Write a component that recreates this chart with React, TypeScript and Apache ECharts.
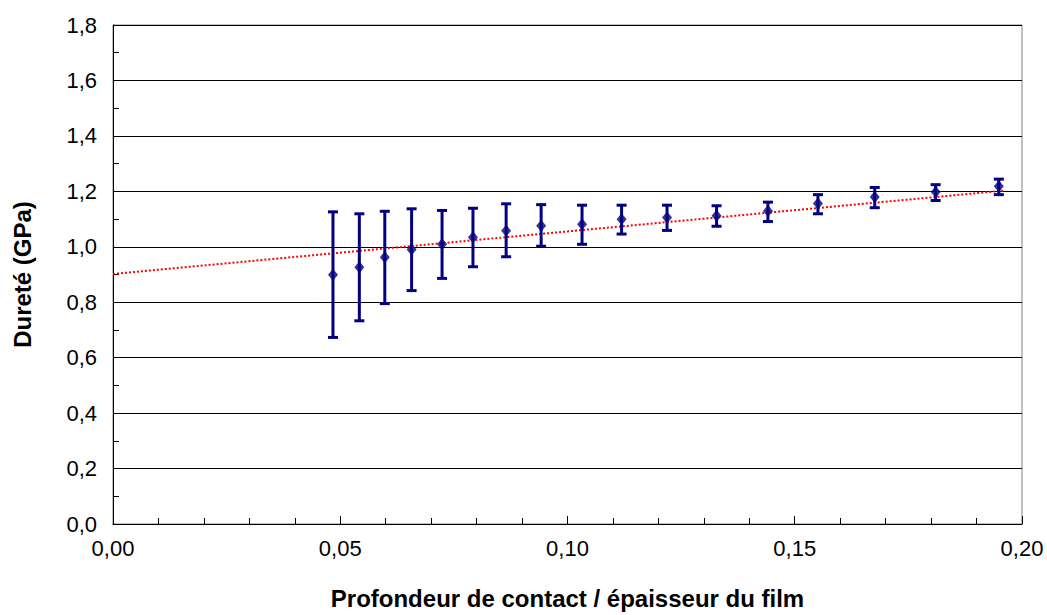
import React, { useEffect, useRef } from "react";
import * as echarts from "echarts";

const depthRatio = [0.0484, 0.0542, 0.0598, 0.0657, 0.0724, 0.0792, 0.0865, 0.0942, 0.1032, 0.1119, 0.1219, 0.1328, 0.1441, 0.1551, 0.1676, 0.181, 0.1949];
const hardness = [0.899, 0.926, 0.962, 0.99, 1.009, 1.034, 1.058, 1.076, 1.081, 1.099, 1.106, 1.112, 1.129, 1.156, 1.18, 1.198, 1.218];
const upperBound = [1.126, 1.119, 1.128, 1.137, 1.131, 1.139, 1.155, 1.152, 1.15, 1.15, 1.15, 1.148, 1.161, 1.188, 1.214, 1.224, 1.244];
const lowerBound = [0.673, 0.733, 0.795, 0.842, 0.886, 0.928, 0.964, 1.002, 1.009, 1.046, 1.059, 1.074, 1.091, 1.119, 1.141, 1.167, 1.188];
const trendX = [0, 0.1963];
const trendY = [0.902, 1.203];

const xTitle = "Profondeur de contact / épaisseur du film";
const yTitle = "Dureté (GPa)";

const FONT = "'Liberation Sans', Arial, sans-serif";
const NAVY = "#000080";

export default function App() {
  const ref = useRef<HTMLDivElement>(null);
  useEffect(() => {
    if (!ref.current) return;
    const chart = echarts.init(ref.current, undefined, { renderer: "svg" });
    const errData = depthRatio.map((x, i) => [x, lowerBound[i], upperBound[i]]);
    chart.setOption({
      animation: false,
      backgroundColor: "#fff",
      grid: {
        left: 113, right: 25, top: 25, bottom: 87,
        show: true, borderColor: "#808080", borderWidth: 1, backgroundColor: "transparent",
      },
      xAxis: {
        type: "value", min: 0, max: 0.2, interval: 0.05,
        name: xTitle, nameLocation: "middle", nameGap: 62,
        nameTextStyle: { fontFamily: FONT, fontSize: 24, fontWeight: "bold", color: "#000" },
        axisLine: { show: true, onZero: false, lineStyle: { color: "#000", width: 1 } },
        axisTick: { show: true, inside: true, length: 8, lineStyle: { color: "#000" } },
        minorTick: { show: true, splitNumber: 5, length: 6, lineStyle: { color: "#000" } },
        axisLabel: {
          fontFamily: FONT, fontSize: 22, color: "#000", margin: 13,
          formatter: (v: number) => v.toFixed(2).replace(".", ","),
        },
        splitLine: { show: false },
      },
      yAxis: {
        type: "value", min: 0, max: 1.8, interval: 0.2,
        name: yTitle, nameLocation: "middle", nameGap: 79, nameRotate: 90,
        nameTextStyle: { fontFamily: FONT, fontSize: 24, fontWeight: "bold", color: "#000" },
        axisLine: { show: true, lineStyle: { color: "#000", width: 1 } },
        axisTick: { show: true, inside: true, length: 6, lineStyle: { color: "#000" } },
        minorTick: { show: true, splitNumber: 2, length: 6, lineStyle: { color: "#000" } },
        axisLabel: {
          fontFamily: FONT, fontSize: 22, color: "#000", margin: 16,
          formatter: (v: number) => v.toFixed(1).replace(".", ","),
        },
        splitLine: { show: true, lineStyle: { color: "#000", width: 1 } },
      },
      series: [
        {
          type: "line",
          data: trendX.map((x, i) => [x, trendY[i]]),
          symbol: "none",
          lineStyle: { color: "#ff0000", width: 2, type: [2, 2] },
          z: 2,
        },
        {
          type: "custom",
          data: errData,
          renderItem: (_params: any, api: any) => {
            const x = api.value(0);
            const lo = api.coord([x, api.value(1)]);
            const hi = api.coord([x, api.value(2)]);
            const half = 5;
            const style = { stroke: NAVY, lineWidth: 3 };
            return {
              type: "group",
              children: [
                { type: "line", shape: { x1: lo[0], y1: lo[1], x2: hi[0], y2: hi[1] }, style },
                { type: "line", shape: { x1: hi[0] - half, y1: hi[1], x2: hi[0] + half, y2: hi[1] }, style },
                { type: "line", shape: { x1: lo[0] - half, y1: lo[1], x2: lo[0] + half, y2: lo[1] }, style },
              ],
            };
          },
          z: 3,
        },
        {
          type: "scatter",
          data: depthRatio.map((x, i) => [x, hardness[i]]),
          symbol: "diamond",
          symbolSize: [10, 12],
          itemStyle: { color: NAVY },
          z: 4,
        },
      ],
    });
    return () => chart.dispose();
  }, []);
  return (
    <div
      ref={ref}
      style={{ position: "absolute", left: 0, top: 0, width: 1047, height: 615 }}
    />
  );
}
